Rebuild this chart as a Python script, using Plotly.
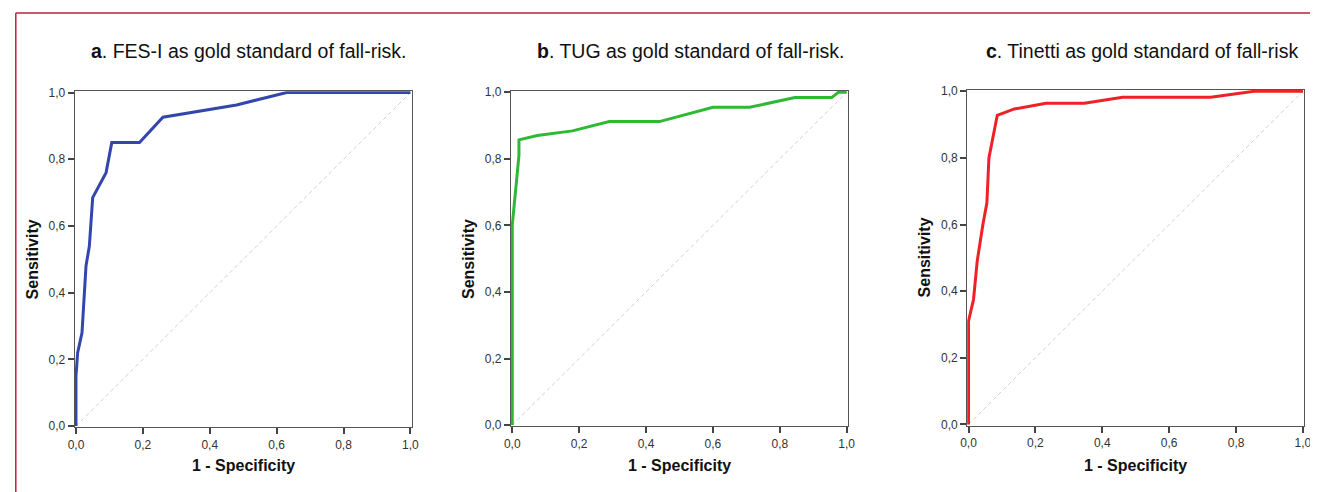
import plotly.graph_objects as go

W, H = 1318, 492
PAGE_OFF = 8  # body margin of the html page

# Panel a: FES-I
fes_x = [0, 0, 0.005, 0.018, 0.03, 0.04, 0.05, 0.09, 0.107, 0.19, 0.26, 0.48, 0.63, 1.0]
fes_y = [0, 0.15, 0.22, 0.28, 0.48, 0.54, 0.685, 0.76, 0.85, 0.85, 0.926, 0.963, 1.0, 1.0]
# Panel b: TUG
tug_x = [0, 0, 0.02, 0.02, 0.075, 0.18, 0.29, 0.44, 0.6, 0.71, 0.845, 0.955, 0.975, 1.0]
tug_y = [0, 0.6, 0.81, 0.857, 0.87, 0.884, 0.912, 0.912, 0.955, 0.955, 0.984, 0.984, 1.0, 1.0]
# Panel c: Tinetti
tin_x = [0, 0, 0.015, 0.026, 0.043, 0.055, 0.061, 0.086, 0.137, 0.232, 0.346, 0.461, 0.724, 0.854, 1.0]
tin_y = [0, 0.31, 0.375, 0.49, 0.6, 0.665, 0.8, 0.928, 0.947, 0.964, 0.964, 0.982, 0.982, 1.0, 1.0]

diag = [0, 1]
tick_vals = [0, 0.2, 0.4, 0.6, 0.8, 1.0]

titles = [("a", ". FES-I as gold standard of fall-risk."),
          ("b", ". TUG as gold standard of fall-risk."),
          ("c", ". Tinetti as gold standard of fall-risk")]
colors = ["#3346ad", "#30b834", "#ee2226"]
series = [(fes_x, fes_y), (tug_x, tug_y), (tin_x, tin_y)]

# target positions in the photographed picture
panels_x = [(75, 410), (512, 847), (969, 1304)]
panels_y = [(92, 427), (91.7, 426), (90.7, 425.3)]
title_cx = [248, 691, 1143]
ylab_x = [31, 468, 925]
pad = 0.004

FONT = "Liberation Sans, Arial"


def fig_px(ref):
    return (ref - 6.0) / 0.991 - PAGE_OFF


def fig_py(ref):
    return (ref - 4.2) / 0.982 - PAGE_OFF


def fx(ref):
    return fig_px(ref) / W


def fy(ref):
    return 1 - fig_py(ref) / H


fig = go.Figure()
layout_axes = {}
for i, ((sx, sy), col, (l, r), (t, b)) in enumerate(zip(series, colors, panels_x, panels_y)):
    n = "" if i == 0 else str(i + 1)
    xa, ya = "x" + n, "y" + n
    fig.add_trace(go.Scatter(x=diag, y=diag, xaxis=xa, yaxis=ya, mode="lines",
                             line=dict(color="#d0d0d0", width=1, dash="4px,3px"),
                             hoverinfo="skip", showlegend=False))
    fig.add_trace(go.Scatter(x=sx, y=sy, xaxis=xa, yaxis=ya, mode="lines",
                             line=dict(color=col, width=3), showlegend=False))
    spx = r - l
    spy = b - t
    axcommon = dict(range=[-pad, 1 + pad], tickvals=tick_vals, tickformat=".1f",
                    showgrid=False, zeroline=False, showline=True, mirror=True,
                    linecolor="#555555", linewidth=1, ticks="outside", ticklen=6,
                    tickcolor="#444444", tickwidth=1.5,
                    tickfont=dict(family=FONT, size=12, color="#333333"))
    layout_axes["xaxis" + n] = dict(domain=[fx(l - spx * pad), fx(r + spx * pad)], anchor=ya, **axcommon)
    layout_axes["yaxis" + n] = dict(domain=[fy(b + spy * pad), fy(t - spy * pad)], anchor=xa, **axcommon)

annotations = []
for i, ((lt, rest), (l, r), (t, b)) in enumerate(zip(titles, panels_x, panels_y)):
    annotations.append(dict(text="<b>" + lt + "</b>" + rest, x=fx(title_cx[i]), y=fy(50),
                            xref="paper", yref="paper", showarrow=False,
                            xanchor="center", yanchor="middle",
                            font=dict(family=FONT, size=19.5, color="#111111")))
    annotations.append(dict(text="<b>1 - Specificity</b>", x=fx((l + r) / 2), y=fy(467),
                            xref="paper", yref="paper", showarrow=False,
                            xanchor="center", yanchor="middle",
                            font=dict(family=FONT, size=16, color="#111111")))
    annotations.append(dict(text="<b>Sensitivity</b>", x=fx(ylab_x[i]), y=fy((t + b) / 2),
                            xref="paper", yref="paper", showarrow=False, textangle=-90,
                            xanchor="center", yanchor="middle",
                            font=dict(family=FONT, size=16, color="#111111")))

shapes = [
    dict(type="line", xref="paper", yref="paper", x0=0.8 / W, x1=1, y0=fy(12), y1=fy(12),
         line=dict(color="#c41e3a", width=1.5)),
    dict(type="line", xref="paper", yref="paper", x0=0.8 / W, x1=0.8 / W, y0=0, y1=fy(12),
         line=dict(color="#c41e3a", width=1.5)),
]

fig.update_layout(width=W, height=H, margin=dict(l=0, r=0, t=0, b=0),
                  paper_bgcolor="white", plot_bgcolor="white", separators=",.",
                  annotations=annotations, shapes=shapes, **layout_axes)

fig.write_html("out.html")
